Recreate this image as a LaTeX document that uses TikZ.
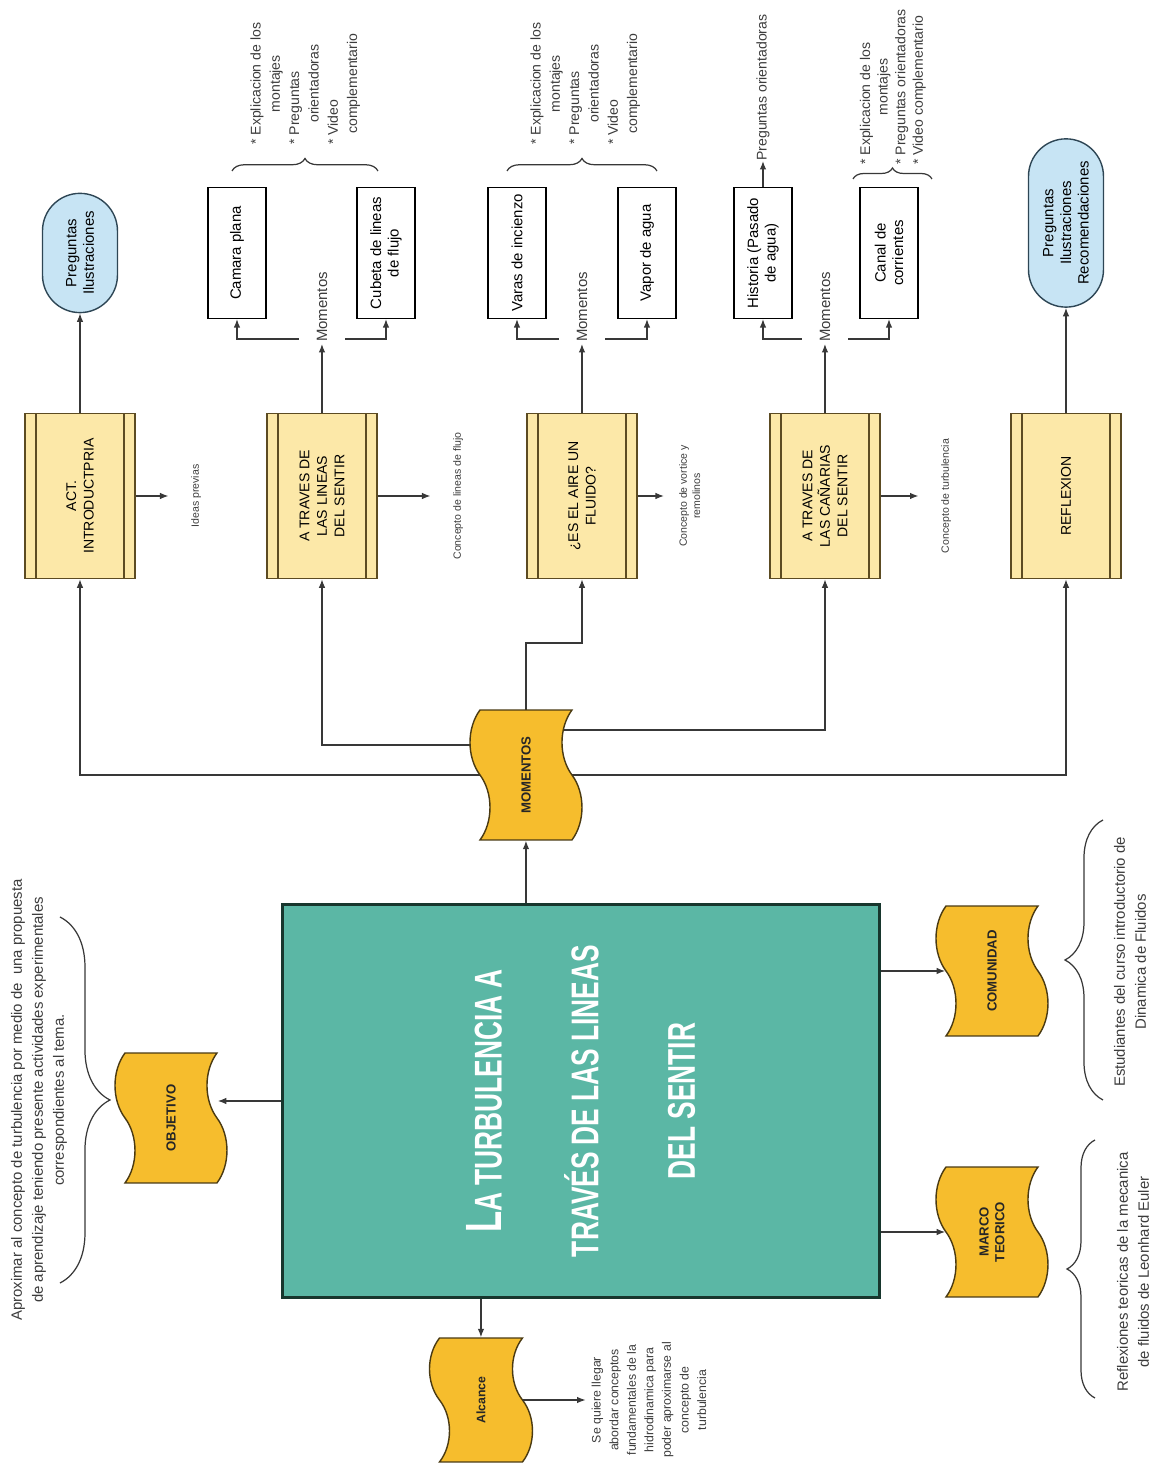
\documentclass[tikz,border=0pt]{standalone}
\usepackage{fontspec}
\setmainfont{Liberation Sans}
\newfontfamily\titlefont[FakeStretch=0.68]{Liberation Sans}
\usepackage{tikz}
\usetikzlibrary{arrows.meta, shapes.symbols, shapes.misc, decorations.pathreplacing, calc, backgrounds}

\definecolor{tealfill}{HTML}{5BB7A5}
\definecolor{tealline}{HTML}{17362D}
\definecolor{tapefill}{HTML}{F6BD2D}
\definecolor{tapeline}{HTML}{4A3A12}
\definecolor{procfill}{HTML}{FCE8A8}
\definecolor{procline}{HTML}{5C4B22}
\definecolor{pillfill}{HTML}{C7E4F4}
\definecolor{pillline}{HTML}{2E4655}
\definecolor{wire}{HTML}{383838}
\definecolor{inkgray}{HTML}{3C3C3C}

\newcommand{\bitem}[1]{\multicolumn{1}{@{}l@{}}{* #1}}

\begin{document}
\begin{tikzpicture}[x=0.02cm, y=0.02cm, rotate=90, transform shape,
  tema/.style={draw=tealline, fill=tealfill, line width=1.3pt,
               minimum width=7.86cm, minimum height=11.94cm, align=center,
               text=white, font=\titlefont\bfseries\fontsize{22}{55}\selectfont},
  tapebox/.style={tape, draw=tapeline, fill=tapefill, line width=0.8pt,
                  tape bend height=0.4cm, minimum width=2.6cm, minimum height=2.24cm,
                  align=center, text=black!85, font=\bfseries\fontsize{7.5}{9}\selectfont},
  proc/.style={draw=procline, fill=procfill, line width=0.9pt,
               minimum width=3.3cm, minimum height=2.2cm, align=center,
               font=\fontsize{8}{10}\selectfont,
               path picture={\draw[procline, line width=0.9pt]
                 ($(path picture bounding box.south west)!0.1!(path picture bounding box.south east)$) --
                 ($(path picture bounding box.north west)!0.1!(path picture bounding box.north east)$)
                 ($(path picture bounding box.south west)!0.9!(path picture bounding box.south east)$) --
                 ($(path picture bounding box.north west)!0.9!(path picture bounding box.north east)$);}},
  pill/.style={rounded rectangle, draw=pillline, fill=pillfill, line width=0.8pt,
               minimum width=2.62cm, minimum height=1.5cm, align=center,
               font=\fontsize{8.5}{10}\selectfont},
  item/.style={draw, fill=white, line width=0.7pt, minimum width=2.62cm,
               minimum height=1.16cm, align=center, font=\fontsize{8.5}{10}\selectfont},
  mlabel/.style={font=\fontsize{8.5}{10}\selectfont, text=inkgray, inner xsep=1pt, inner ysep=0.35cm},
  tiny/.style={font=\fontsize{6}{7.5}\selectfont, text=inkgray, align=center, inner sep=0pt, anchor=north},
  desc/.style={font=\fontsize{8.5}{12}\selectfont, text=inkgray, align=center},
  bul/.style={font=\fontsize{8}{11}\selectfont, text=inkgray, inner sep=0pt},
  arr/.style={draw=wire, line width=0.7pt, -{Latex[length=1.7mm,width=1.3mm]}},
  brc/.style={draw=wire, line width=0.7pt, decorate, decoration={brace, amplitude=#1}}]

  \useasboundingbox (0,0) rectangle (1467,1163);

  % central title block
  \node[tema] (tema) at (366,582)
    {{\fontsize{29}{30}\selectfont L}A TURBULENCIA A\\TRAVÉS DE LAS LINEAS\\DEL SENTIR};

  % tapes around the title
  \node[tapebox] (mom) at (692,637) {MOMENTOS};
  \node[tapebox] (obj) at (349,992) {OBJETIVO};
  \node[tapebox] (com) at (496,171) {COMUNIDAD};
  \node[tapebox] (mar) at (235,171) {MARCO\\TEORICO};
  \node[tapebox, minimum width=2.48cm, minimum height=2.06cm,
        font=\bfseries\fontsize{7}{9}\selectfont] (alc) at (67,682) {Alcance};

  \draw[arr] (tema.east |- mom.west) -- (mom.west);
  \draw[arr] (tema.north) -- (tema.north |- obj.south);
  \draw[arr] (tema.south -| com.north) -- (com.north);
  \draw[arr] (tema.south -| mar.north) -- (mar.north);
  \draw[arr] (tema.west |- alc.east) -- (alc.east);

  % descriptions with braces
  \coordinate (ob1) at (550,1103);
  \coordinate (ob2) at (184,1103);
  \draw[brc=1cm] (ob1) -- (ob2);
  \node[desc] (objt) at (367,1124)
    {Aproximar al concepto de turbulencia por medio de \ una propuesta\\
     de aprendizaje teniendo presente actividades experimentales\\
     correspondientes al tema.};

  \coordinate (co1) at (367,60);
  \coordinate (co2) at (647,60);
  \draw[brc=0.76cm] (co1) -- (co2);
  \node[desc] (comt) at (505,33) {Estudiantes del curso introductorio de\\Dinamica de Fluidos};

  \coordinate (ma1) at (69,68);
  \coordinate (ma2) at (327,68);
  \draw[brc=0.56cm] (ma1) -- (ma2);
  \node[desc] (mart) at (195,30) {Reflexiones teoricas de la mecanica\\de fluidos de Leonhard Euler};

  \node[desc, font=\fontsize{7}{10}\selectfont] (alct) at (67,514)
    {Se quiere llegar\\abordar conceptos\\fundamentales de la\\hidrodinamica para\\
     poder aproximarse al\\concepto de\\turbulencia};
  \draw[arr] (alc.south) -- (alc.south |- alct.north);

  % the five moments
  \node[proc] (act)  at (971,1083) {ACT.\\INTRODUCTPRIA};
  \node[proc] (lin)  at (971,841)  {A TRAVES DE\\LAS LINEAS\\DEL SENTIR};
  \node[proc] (aire) at (971,581)  {¿ES EL AIRE UN\\FLUIDO?};
  \node[proc] (can)  at (971,338)  {A TRAVES DE\\LAS CAÑARIAS\\DEL SENTIR};
  \node[proc] (ref)  at (971,97)   {REFLEXION};

  % bus lines start behind the tape
  \begin{pgfonlayer}{background}
    \draw[arr] (mom.center) |- (act.west);
    \draw[arr] ($(mom.center)+(30,0)$) |- (lin.west);
    \draw[arr] (mom.center) -- ++(132,0) |- (aire.west);
    \draw[arr] ($(mom.center)+(45,0)$) |- (can.west);
    \draw[arr] (mom.center) |- (ref.west);
  \end{pgfonlayer}

  % concepts reached by each moment
  \node[tiny] (n1) at (971,972) {Ideas previas};
  \node[tiny] (n2) at (971,710) {Concepto de lineas de flujo};
  \node[tiny] (n3) at (971,484) {Concepto de vortice y\\remolinos};
  \node[tiny] (n4) at (971,222) {Concepto de turbulencia};
  \draw[arr, shorten >=0.45cm] (act.south) -- (n1.north);
  \draw[arr, shorten >=0.45cm] (lin.south) -- (n2.north);
  \draw[arr, shorten >=0.3cm]  (aire.south) -- (n3.north);
  \draw[arr, shorten >=0.45cm] (can.south) -- (n4.north);

  % first and last moment
  \node[pill] (p1) at (1214,1083) {Preguntas\\Ilustraciones};
  \node[pill, minimum width=3.6cm] (p2) at (1244,97) {Preguntas\\Ilustraciones\\Recomendaciones};
  \draw[arr] (act.east) -- (p1.west);
  \draw[arr] (ref.east) -- (p2.west);

  % second moment
  \node[mlabel] (m2) at (1160,841) {Momentos};
  \node[item] (cam) at (1214,926) {Camara plana};
  \node[item] (cub) at (1214,777) {Cubeta de lineas\\de flujo};
  \draw[arr] (lin.east) -- (m2.west);
  \draw[arr] ($(m2.north west)+(5,0)$) |- (cam.west);
  \draw[arr] ($(m2.south west)+(5,0)$) |- (cub.west);
  \coordinate (b21) at (1296,931);
  \coordinate (b22) at (1296,785);
  \draw[brc=0.25cm] (b21) -- (b22);
  \node[bul, anchor=west] (t2) at (1322,858)
    {\begin{tabular}{@{}c@{}}\bitem{Explicacion de los}\\montajes\\\bitem{Preguntas}\\
     orientadoras\\\bitem{Video}\\complementario\end{tabular}};

  % third moment
  \node[mlabel] (m3) at (1160,581) {Momentos};
  \node[item] (var) at (1214,646) {Varas de incienzo};
  \node[item] (vap) at (1214,516) {Vapor de agua};
  \draw[arr] (aire.east) -- (m3.west);
  \draw[arr] ($(m3.north west)+(5,0)$) |- (var.west);
  \draw[arr] ($(m3.south west)+(5,0)$) |- (vap.west);
  \coordinate (b31) at (1296,656);
  \coordinate (b32) at (1296,506);
  \draw[brc=0.25cm] (b31) -- (b32);
  \node[bul, anchor=west] (t3) at (1322,578)
    {\begin{tabular}{@{}c@{}}\bitem{Explicacion de los}\\montajes\\\bitem{Preguntas}\\
     orientadoras\\\bitem{Video}\\complementario\end{tabular}};

  % fourth moment
  \node[mlabel] (m4) at (1160,338) {Momentos};
  \node[item] (his) at (1214,400) {Historia (Pasado\\de agua)};
  \node[item] (cnl) at (1214,274) {Canal de\\corrientes};
  \draw[arr] (can.east) -- (m4.west);
  \draw[arr] ($(m4.north west)+(5,0)$) |- (his.west);
  \draw[arr] ($(m4.south west)+(5,0)$) |- (cnl.west);
  \node[bul, anchor=west] (pori) at (1306,400) {Preguntas orientadoras};
  \draw[arr] (his.east) -- (pori.west);
  \coordinate (b41) at (1288,310);
  \coordinate (b42) at (1288,231);
  \draw[brc=0.22cm] (b41) -- (b42);
  \node[bul, anchor=west, font=\fontsize{8}{10}\selectfont] (t4) at (1302,270)
    {\begin{tabular}{@{}c@{}}\bitem{Explicacion de los}\\montajes\\
     \bitem{Preguntas orientadoras}\\\bitem{Video complementario}\end{tabular}};
\end{tikzpicture}
\end{document}
